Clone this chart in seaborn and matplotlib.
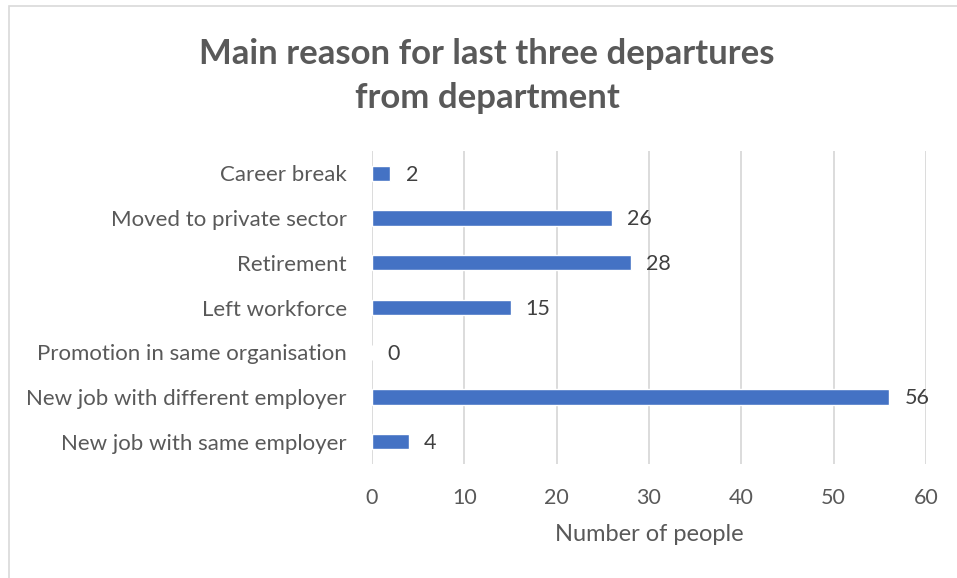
import matplotlib
matplotlib.use("Agg")
import matplotlib.pyplot as plt
import seaborn as sns
import pandas as pd
from matplotlib.patches import Rectangle

categories = [
    "Career break",
    "Moved to private sector",
    "Retirement",
    "Left workforce",
    "Promotion in same organisation",
    "New job with different employer",
    "New job with same employer",
]
counts = [2, 26, 28, 15, 0, 56, 4]
x_ticks = [0, 10, 20, 30, 40, 50, 60]

title = "Main reason for last three departures\nfrom department"
x_label = "Number of people"

sns.set_theme(style="white")
plt.rcParams["font.family"] = ["Lato", "DejaVu Sans"]

df = pd.DataFrame({"reason": categories, "people": counts})

fig = plt.figure(figsize=(9.57, 5.78), dpi=100)
W, H = 957, 578
ax = fig.add_axes([372 / W, 1 - 464 / H, (926 - 372) / W, (464 - 151) / H])

sns.barplot(data=df, x="people", y="reason", order=categories, color="#4472C4",
            saturation=1, width=0.34, ax=ax)

ax.set_xlim(0, 60)
ax.set_xticks(x_ticks)
ax.set_ylim(len(categories) - 0.5, -0.5)
ax.grid(axis="x", color="#d9d9d9", linewidth=1.3)
ax.set_axisbelow(True)
for s in ax.spines.values():
    s.set_visible(False)

ax.tick_params(axis="x", length=0, pad=17, labelsize=15.5, labelcolor="#595959")
ax.tick_params(axis="y", length=0, pad=18, labelsize=16, labelcolor="#595959")
ax.set_ylabel("")
ax.set_xlabel(x_label, fontsize=17, color="#595959", labelpad=12)

for i, v in enumerate(counts):
    ax.annotate(str(v), xy=(v, i), xytext=(11, -1), textcoords="offset points",
                ha="left", va="center", fontsize=15.5, color="#404040")

fig.text(487 / W, 1 - 76 / H, title,
         ha="center", va="center", fontsize=25, fontweight="bold",
         color="#595959", linespacing=1.5)

# chart area frame
fig.patches.append(Rectangle((9 / W, -0.1), 1.2, 1 - 6 / H + 0.1,
                             transform=fig.transFigure, fill=False,
                             edgecolor="#d9d9d9", linewidth=1.2))

fig.savefig("out.png", dpi=100, facecolor="white")
